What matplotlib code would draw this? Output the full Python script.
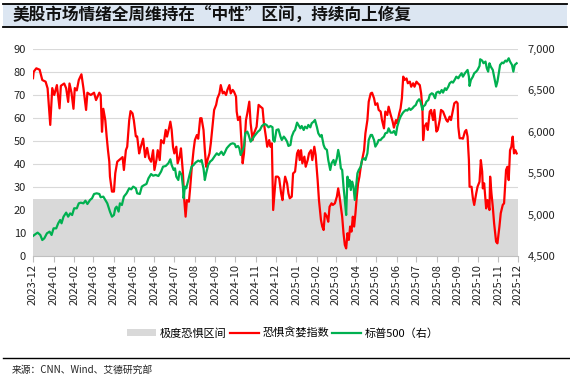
import matplotlib
matplotlib.use("Agg")
import matplotlib.pyplot as plt
import matplotlib.dates as mdates
from matplotlib.patches import Patch
from matplotlib.lines import Line2D
from matplotlib.ticker import FuncFormatter, MultipleLocator
import pandas as pd

plt.rcParams['font.family'] = ['Noto Sans CJK SC', 'DejaVu Sans']

title = "美股市场情绪全周维持在“中性”区间，持续向上修复"
source = "来源：CNN、Wind、艾德研究部"
legend_labels = ["极度恐惧区间", "恐惧贪婪指数", "标普500（右）"]
fear_zone = (0, 25)

fg_dates = [
    "2023-12-01","2023-12-02","2023-12-06","2023-12-11","2023-12-15","2023-12-20","2023-12-23","2023-12-27","2023-12-30",
    "2024-01-02","2024-01-06","2024-01-10","2024-01-12","2024-01-17","2024-01-20","2024-01-23","2024-01-25","2024-01-28","2024-01-31",
    "2024-02-02","2024-02-05","2024-02-08","2024-02-12","2024-02-15","2024-02-19","2024-02-21","2024-02-26",
    "2024-03-02","2024-03-05","2024-03-10","2024-03-12","2024-03-14","2024-03-16","2024-03-19","2024-03-21","2024-03-23","2024-03-25","2024-03-26","2024-03-29",
    "2024-04-01","2024-04-03","2024-04-06","2024-04-10","2024-04-14","2024-04-16","2024-04-19","2024-04-21","2024-04-24","2024-04-26","2024-04-29",
    "2024-05-01","2024-05-04","2024-05-06","2024-05-09","2024-05-11","2024-05-15","2024-05-18","2024-05-21","2024-05-24","2024-05-27","2024-05-30",
    "2024-06-01","2024-06-04","2024-06-06","2024-06-09","2024-06-11","2024-06-15","2024-06-18","2024-06-20","2024-06-23","2024-06-25","2024-06-27","2024-06-29",
    "2024-07-01","2024-07-04","2024-07-06","2024-07-09","2024-07-11","2024-07-14","2024-07-16","2024-07-18","2024-07-20","2024-07-23","2024-07-25","2024-07-27","2024-07-30",
    "2024-08-01","2024-08-04","2024-08-06","2024-08-09","2024-08-11","2024-08-14","2024-08-16","2024-08-18","2024-08-20","2024-08-23","2024-08-25","2024-08-28","2024-08-30",
    "2024-09-02","2024-09-04","2024-09-07","2024-09-09","2024-09-12","2024-09-14","2024-09-17","2024-09-19","2024-09-22","2024-09-24","2024-09-27","2024-09-29",
    "2024-10-02","2024-10-03","2024-10-05","2024-10-08","2024-10-10","2024-10-12","2024-10-14","2024-10-17","2024-10-19","2024-10-22","2024-10-24","2024-10-27","2024-10-29",
    "2024-11-02","2024-11-05","2024-11-08","2024-11-11","2024-11-13","2024-11-16","2024-11-18","2024-11-21","2024-11-23","2024-11-25","2024-11-27","2024-11-29",
    "2024-12-01","2024-12-04","2024-12-06","2024-12-09","2024-12-11","2024-12-13","2024-12-15","2024-12-18","2024-12-20","2024-12-22","2024-12-25","2024-12-27","2024-12-30",
    "2025-01-02","2025-01-04","2025-01-06","2025-01-08","2025-01-10","2025-01-13","2025-01-15","2025-01-18","2025-01-20","2025-01-23","2025-01-25","2025-01-28","2025-01-30",
    "2025-02-02","2025-02-04","2025-02-07","2025-02-09","2025-02-11","2025-02-13","2025-02-16","2025-02-18","2025-02-20","2025-02-23","2025-02-25","2025-02-28",
    "2025-03-03","2025-03-05","2025-03-07","2025-03-09","2025-03-11","2025-03-13","2025-03-15","2025-03-17","2025-03-19","2025-03-21","2025-03-23","2025-03-25","2025-03-27","2025-03-29","2025-03-31",
    "2025-04-02","2025-04-04","2025-04-06","2025-04-08","2025-04-10","2025-04-13","2025-04-15","2025-04-18","2025-04-20","2025-04-23","2025-04-25","2025-04-28","2025-04-30",
    "2025-05-03","2025-05-05","2025-05-08","2025-05-10","2025-05-13","2025-05-15","2025-05-18","2025-05-20","2025-05-23","2025-05-26","2025-05-28","2025-05-31",
    "2025-06-02","2025-06-05","2025-06-07","2025-06-09","2025-06-11","2025-06-13","2025-06-16","2025-06-18","2025-06-21","2025-06-23","2025-06-26","2025-06-28",
    "2025-07-01","2025-07-03","2025-07-06","2025-07-08","2025-07-10","2025-07-11","2025-07-13","2025-07-16","2025-07-18","2025-07-21","2025-07-23","2025-07-26","2025-07-28","2025-07-31",
    "2025-08-02","2025-08-05","2025-08-07","2025-08-10","2025-08-12","2025-08-15","2025-08-17","2025-08-20","2025-08-22","2025-08-25","2025-08-27","2025-08-30",
    "2025-09-01","2025-09-02","2025-09-04","2025-09-07","2025-09-09","2025-09-12","2025-09-14","2025-09-16","2025-09-18","2025-09-19","2025-09-22","2025-09-24","2025-09-26","2025-09-29",
    "2025-10-01","2025-10-04","2025-10-06","2025-10-08","2025-10-09","2025-10-11","2025-10-14","2025-10-16","2025-10-19","2025-10-20","2025-10-22","2025-10-24","2025-10-26","2025-10-29","2025-10-31",
    "2025-11-03","2025-11-05","2025-11-08","2025-11-10","2025-11-13","2025-11-15","2025-11-17","2025-11-19","2025-11-21","2025-11-23","2025-11-25","2025-11-27","2025-11-29",
]
fg_values = [
    77.3, 80.1, 81.6, 81.0, 76.5, 75.8, 72.9, 57.0, 73.0,
    70.0, 74.3, 64.2, 74.0, 75.0, 72.9, 67.0, 75.0, 71.0, 64.0,
    73.0, 72.0, 76.5, 79.0, 73.0, 63.5, 71.0, 70.0,
    71.0, 67.8, 71.0, 70.0, 54.0, 64.0, 59.0, 52.0, 46.0, 41.0, 34.5, 28.0,
    28.0, 36.0, 41.0, 42.0, 43.0, 37.4, 46.0, 47.5, 59.0, 63.0, 62.0,
    59.0, 52.0, 52.0, 44.6, 47.0, 51.0, 43.0, 47.0, 42.5, 41.0, 46.0,
    37.4, 41.7, 46.0, 41.7, 50.4, 49.0, 54.8, 51.9, 55.5, 58.4, 54.8, 47.5,
    44.6, 47.5, 40.3, 43.2, 46.8, 36.0, 24.3, 17.1, 24.3, 23.6, 30.0, 37.4, 46.0,
    50.4, 52.6, 51.0, 59.9, 59.9, 54.8, 46.0, 38.8, 41.7, 44.6, 49.0, 57.7, 63.5,
    65.7, 68.6, 70.7, 74.3, 70.7, 71.4, 70.0, 72.2, 74.3, 70.7, 72.2, 71.4,
    69.3, 62.8, 59.1, 60.6, 50.4, 40.3, 44.6, 59.1, 62.0, 67.1, 57.7, 50.4, 53.3,
    56.2, 65.7, 64.9, 64.2, 57.7, 51.9, 47.5, 50.4, 47.5, 49.0, 20.0, 27.2,
    34.5, 34.5, 33.8, 27.2, 24.3, 30.1, 34.5, 31.6, 27.2, 25.1, 25.8, 35.9, 36.7,
    44.6, 46.0, 41.7, 46.0, 40.3, 43.2, 38.8, 41.7, 44.6, 46.0, 41.7, 47.5, 43.9,
    33.0, 24.3, 15.7, 12.8, 11.3, 18.6, 17.1, 14.9, 21.4, 22.9, 22.2, 22.9,
    25.8, 29.4, 25.8, 21.4, 17.1, 9.9, 4.8, 3.3, 9.9, 7.0, 12.8, 10.6, 17.1, 12.8, 18.6,
    25.8, 31.6, 34.5, 38.8, 41.7, 46.0, 53.3, 59.1, 67.1, 70.7, 71.0, 68.6, 65.7,
    66.4, 63.5, 62.8, 59.1, 55.5, 62.8, 61.3, 64.9, 61.5, 58.5, 55.8, 59.1,
    57.7, 62.0, 64.2, 68.6, 78.0, 76.5, 77.2, 75.1, 75.8, 73.6, 75.1, 73.6,
    75.8, 75.1, 74.3, 70.7, 63.5, 50.4, 56.2, 57.7, 54.8, 62.8, 63.5, 59.1, 63.5, 54.1,
    54.8, 59.1, 63.5, 62.8, 61.3, 59.1, 58.4, 60.6, 59.1, 63.5, 66.4, 67.1,
    66.4, 56.2, 51.2, 51.2, 51.0, 54.1, 54.8, 51.9, 41.7, 30.1, 30.1, 25.1, 22.2, 27.2,
    30.1, 32.3, 41.7, 36.7, 29.4, 31.6, 20.7, 24.3, 20.0, 34.5, 27.2, 21.4, 14.2, 6.2, 5.5,
    12.8, 18.6, 22.2, 22.9, 37.4, 38.8, 33.0, 46.0, 47.5, 51.9, 44.6, 46.0, 44.6,
]

spx_dates = [
    "2023-12-01","2023-12-05","2023-12-08","2023-12-12","2023-12-15","2023-12-18","2023-12-22","2023-12-26","2023-12-29",
    "2024-01-01","2024-01-05","2024-01-08","2024-01-11","2024-01-13","2024-01-16","2024-01-20","2024-01-23","2024-01-26","2024-01-29",
    "2024-02-01","2024-02-05","2024-02-08","2024-02-11","2024-02-15","2024-02-18","2024-02-21","2024-02-25","2024-02-28",
    "2024-03-02","2024-03-06","2024-03-10","2024-03-12","2024-03-16","2024-03-19","2024-03-22","2024-03-26","2024-03-29",
    "2024-04-01","2024-04-03","2024-04-05","2024-04-08","2024-04-10","2024-04-13","2024-04-16","2024-04-20","2024-04-24","2024-04-27","2024-04-30",
    "2024-05-04","2024-05-06","2024-05-10","2024-05-13","2024-05-16","2024-05-20","2024-05-23","2024-05-27","2024-05-30",
    "2024-06-03","2024-06-07","2024-06-11","2024-06-14","2024-06-18","2024-06-22","2024-06-25","2024-06-27","2024-06-30",
    "2024-07-02","2024-07-04","2024-07-07","2024-07-09","2024-07-12","2024-07-14","2024-07-15","2024-07-17","2024-07-19","2024-07-22","2024-07-24","2024-07-27","2024-07-30",
    "2024-08-02","2024-08-06","2024-08-09","2024-08-11","2024-08-14","2024-08-16","2024-08-18","2024-08-21","2024-08-24","2024-08-27","2024-08-31",
    "2024-09-03","2024-09-06","2024-09-10","2024-09-13","2024-09-15","2024-09-18","2024-09-21","2024-09-24","2024-09-27","2024-09-30",
    "2024-10-02","2024-10-05","2024-10-07","2024-10-09","2024-10-11","2024-10-14","2024-10-16","2024-10-19","2024-10-21","2024-10-24","2024-10-26","2024-10-29","2024-10-31",
    "2024-11-04","2024-11-07","2024-11-10","2024-11-14","2024-11-17","2024-11-20","2024-11-23","2024-11-26","2024-11-27","2024-11-29",
    "2024-12-02","2024-12-05","2024-12-08","2024-12-10","2024-12-13","2024-12-15","2024-12-18","2024-12-20","2024-12-23","2024-12-25","2024-12-28","2024-12-30",
    "2025-01-02","2025-01-04","2025-01-07","2025-01-09","2025-01-12","2025-01-14","2025-01-17","2025-01-19","2025-01-22","2025-01-24","2025-01-27","2025-01-29",
    "2025-02-01","2025-02-03","2025-02-06","2025-02-08","2025-02-11","2025-02-13","2025-02-16","2025-02-18","2025-02-21","2025-02-23","2025-02-26","2025-02-28",
    "2025-03-03","2025-03-05","2025-03-07","2025-03-09","2025-03-11","2025-03-13","2025-03-15","2025-03-17","2025-03-19","2025-03-20","2025-03-22","2025-03-24","2025-03-26","2025-03-28","2025-03-30",
    "2025-04-01","2025-04-03","2025-04-05","2025-04-08","2025-04-10","2025-04-13","2025-04-15","2025-04-18","2025-04-20","2025-04-23","2025-04-25","2025-04-28","2025-04-30",
    "2025-05-03","2025-05-05","2025-05-08","2025-05-10","2025-05-13","2025-05-15","2025-05-18","2025-05-20","2025-05-23","2025-05-26","2025-05-28","2025-05-31",
    "2025-06-02","2025-06-05","2025-06-07","2025-06-10","2025-06-12","2025-06-15","2025-06-17","2025-06-20","2025-06-22","2025-06-25","2025-06-27","2025-06-30",
    "2025-07-02","2025-07-05","2025-07-07","2025-07-10","2025-07-11","2025-07-14","2025-07-16","2025-07-19","2025-07-21","2025-07-24","2025-07-26","2025-07-29","2025-07-31",
    "2025-08-03","2025-08-05","2025-08-08","2025-08-10","2025-08-13","2025-08-15","2025-08-18","2025-08-20","2025-08-23","2025-08-25","2025-08-28","2025-08-30",
    "2025-09-02","2025-09-04","2025-09-07","2025-09-09","2025-09-12","2025-09-14","2025-09-16","2025-09-18","2025-09-19","2025-09-21","2025-09-24","2025-09-26","2025-09-29",
    "2025-10-01","2025-10-04","2025-10-05","2025-10-08","2025-10-10","2025-10-13","2025-10-15","2025-10-17","2025-10-19","2025-10-21","2025-10-24","2025-10-26","2025-10-29","2025-10-31",
    "2025-11-02","2025-11-04","2025-11-07","2025-11-09","2025-11-12","2025-11-14","2025-11-17","2025-11-19","2025-11-22","2025-11-24","2025-11-26","2025-11-29",
]
spx_values = [
    4742, 4766, 4782, 4754, 4693, 4713, 4774, 4794, 4754,
    4834, 4834, 4895, 4935, 4895, 4975, 5024, 4975, 5015, 4995,
    5076, 5076, 5136, 5144, 5136, 5168, 5128, 5177, 5197,
    5249, 5257, 5249, 5209, 5217, 5177, 5136, 5036, 4975,
    4995, 5076, 5096, 5036, 5136, 5116, 5217, 5257, 5318, 5305, 5338,
    5318, 5257, 5249, 5338, 5354, 5370, 5438, 5490, 5470,
    5479, 5466, 5519, 5579, 5587, 5620, 5668, 5599, 5539,
    5559, 5458, 5418, 5519, 5479, 5338, 5197, 5338, 5318, 5418, 5479, 5579, 5599,
    5628, 5652, 5640, 5660, 5559, 5418, 5499, 5599, 5640, 5660, 5708,
    5740, 5720, 5760, 5720, 5748, 5801, 5829, 5853, 5861, 5853,
    5813, 5829, 5801, 5720, 5760, 5821, 5982, 6002, 5962, 5881, 5901, 5942, 5962,
    6002, 6022, 6070, 6095, 6083, 6054, 6070, 6055, 5901, 5881,
    6022, 6030, 5942, 5901, 5942, 5922, 5881, 5829, 5841, 5942, 6002, 6022,
    6111, 6083, 6042, 6070, 6022, 6062, 6042, 6083, 6054, 6103, 6123, 6143,
    6054, 5982, 5942, 5962, 5841, 5801, 5781, 5660, 5539, 5620, 5660, 5599,
    5680, 5781, 5700, 5559, 5539, 5338, 5177, 4995, 5458, 5338, 5418, 5297, 5398, 5338, 5177,
    5338, 5499, 5539, 5579, 5660, 5680, 5660, 5740, 5901, 5962, 5962, 5901, 5821,
    5861, 5901, 5901, 5922, 5942, 5982, 5990, 6042, 5990, 5990, 6010, 5962,
    6062, 6143, 6183, 6224, 6244, 6264, 6256, 6284, 6264, 6284, 6304, 6324,
    6365, 6393, 6365, 6264, 6304, 6324, 6365, 6385, 6445, 6465, 6457, 6405, 6473,
    6485, 6465, 6505, 6473, 6526, 6505, 6546, 6586, 6606, 6594, 6634, 6666,
    6646, 6675, 6707, 6666, 6707, 6727, 6747, 6666, 6554, 6626, 6666, 6707, 6727,
    6747, 6795, 6876, 6860, 6828, 6848, 6767, 6727, 6828, 6787, 6747, 6666, 6546, 6606,
    6707, 6807, 6836, 6828, 6860, 6848, 6888, 6848, 6807, 6727, 6807, 6828,
]

x_start, x_end = "2023-12-01", "2025-12-01"

fig = plt.figure(figsize=(5.7, 3.82), dpi=100)

# title bar
fig.patches.append(plt.Rectangle((3/570, 1-27/382), 564/570, 23/382, transform=fig.transFigure,
                                 facecolor="#dce6f2", edgecolor="none", zorder=0))
for yy in (1-4/382, 1-27/382):
    fig.add_artist(Line2D([3/570, 567/570], [yy, yy], transform=fig.transFigure, color="black", lw=1.3))
fig.text(13/570, 1-15.5/382, title, fontsize=12, fontweight="bold", va="center", ha="left", color="#111111")

ax = fig.add_axes([33/570, 1-256/382, 485/570, 207/382])
ax2 = ax.twinx()

fgd = pd.to_datetime(fg_dates)
spd = pd.to_datetime(spx_dates)

ax.set_axisbelow(True)
ax.axhspan(fear_zone[0], fear_zone[1], color="#d9d9d9", lw=0, zorder=1)
ax.plot(fgd, fg_values, color="#ff0000", lw=1.6, zorder=3)
ax2.plot(spd, spx_values, color="#00b050", lw=1.6, zorder=3)

ax.set_ylim(0, 90)
ax.yaxis.set_major_locator(MultipleLocator(10))
ax2.set_ylim(4500, 7000)
ax2.yaxis.set_major_locator(MultipleLocator(500))
ax2.yaxis.set_major_formatter(FuncFormatter(lambda v, p: f"{int(v):,}"))
ax.set_xlim(pd.Timestamp(x_start), pd.Timestamp(x_end))
ax.xaxis.set_major_locator(mdates.MonthLocator())
ax.xaxis.set_major_formatter(mdates.DateFormatter("%Y-%m"))
ax.grid(axis="y", color="#d9d9d9", lw=0.8)

for a in (ax, ax2):
    for s in ("top", "left", "right"):
        a.spines[s].set_visible(False)
    a.spines["bottom"].set_visible(False)
ax.spines["bottom"].set_visible(True)
ax.spines["bottom"].set_color("#bfbfbf")
ax.spines["bottom"].set_linewidth(0.8)

ax.tick_params(axis="y", length=0, pad=5, labelsize=8, labelcolor="#222222")
ax2.tick_params(axis="y", length=0, pad=7, labelsize=8, labelcolor="#222222")
ax.tick_params(axis="x", length=4, width=0.8, color="#bfbfbf", pad=2, labelsize=8,
               labelrotation=90, labelcolor="#222222")

handles = [Patch(facecolor="#d9d9d9", edgecolor="none"),
           Line2D([], [], color="#ff0000", lw=1.6),
           Line2D([], [], color="#00b050", lw=1.6)]
fig.legend(handles, legend_labels, loc="center", bbox_to_anchor=(283/570, 1-333/382), ncol=3,
           frameon=False, fontsize=8, handlelength=2.6, handleheight=0.6, handletextpad=0.35,
           columnspacing=0.3, borderpad=0)

fig.add_artist(Line2D([3/570, 570/570], [1-358/382, 1-358/382], transform=fig.transFigure, color="black", lw=1.0))
fig.text(12/570, 1-370/382, source, fontsize=7, va="center", ha="left", color="#222222")

fig.savefig("out.png", dpi=100)
